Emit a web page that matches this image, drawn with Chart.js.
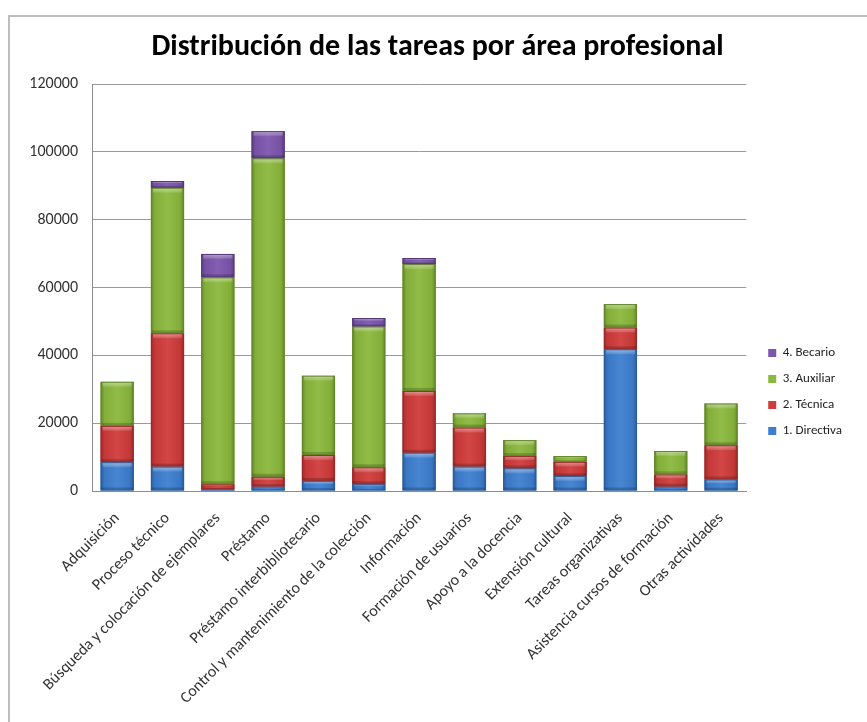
<!DOCTYPE html>
<html>
<head>
<meta charset="utf-8">
<script src="https://cdn.jsdelivr.net/npm/chart.js@4/dist/chart.umd.min.js"></script>
<style>
  html, body { margin: 0; padding: 0; background: #ffffff; overflow: hidden; }
  #wrap { position: relative; width: 867px; height: 722px; }
  #frame { position: absolute; left: 8px; top: 15px; width: 900px; height: 800px;
           border: 2px solid #bdbdbd; box-sizing: border-box; }
  canvas { position: absolute; left: 0; top: 0; }
</style>
</head>
<body>
<div id="wrap">
  <div id="frame"></div>
  <canvas id="c" width="867" height="722"></canvas>
</div>
<script>
const titleText = 'Distribución de las tareas por área profesional';
const categories = [
  'Adquisición', 'Proceso técnico', 'Búsqueda y colocación de ejemplares', 'Préstamo',
  'Préstamo interbibliotecario', 'Control y mantenimiento de la colección', 'Información',
  'Formación de usuarios', 'Apoyo a la docencia', 'Extensión cultural',
  'Tareas organizativas', 'Asistencia cursos de formación', 'Otras actividades'
];
const seriesNames = ['1. Directiva', '2. Técnica', '3. Auxiliar', '4. Becario'];
const directiva = [8500, 7200, 500, 1300, 3000, 2000, 11300, 7200, 6700, 4400, 41800, 1300, 3400];
const tecnica   = [10700, 39300, 1500, 2900, 7600, 5000, 18200, 11500, 3600, 4200, 6400, 3600, 10100];
const auxiliar  = [13000, 42900, 61000, 93900, 23400, 41500, 37400, 4200, 4700, 1700, 6900, 6900, 12300];
const becario   = [0, 2000, 6900, 8000, 0, 2500, 1800, 0, 0, 0, 0, 0, 0];
const yTickValues = [0, 20000, 40000, 60000, 80000, 100000, 120000];

const seriesColors = ['#3d7ecf', '#d03b3b', '#8ab83c', '#7c55ad'];
const seriesBorders = ['#2a5b99', '#992a2a', '#63862a', '#553a7a'];
const FONT = "Carlito, Calibri, Lato, 'Open Sans', sans-serif";

const bevel = {
  id: 'bevel',
  afterDatasetsDraw(chart) {
    const ctx = chart.ctx;
    chart.data.datasets.forEach((ds, di) => {
      const meta = chart.getDatasetMeta(di);
      meta.data.forEach(el => {
        const p = el.getProps(['x', 'y', 'base', 'width'], true);
        const left = p.x - p.width / 2, right = p.x + p.width / 2;
        const top = Math.min(p.y, p.base), bottom = Math.max(p.y, p.base);
        const h = bottom - top;
        if (h < 1) return;
        ctx.save();
        ctx.beginPath(); ctx.rect(left, top, p.width, h); ctx.clip();
        const g = ctx.createLinearGradient(left, 0, right, 0);
        g.addColorStop(0, 'rgba(0,0,0,0.28)');
        g.addColorStop(0.12, 'rgba(0,0,0,0.05)');
        g.addColorStop(0.5, 'rgba(255,255,255,0.06)');
        g.addColorStop(0.88, 'rgba(0,0,0,0.05)');
        g.addColorStop(1, 'rgba(0,0,0,0.28)');
        ctx.fillStyle = g;
        ctx.fillRect(left, top, p.width, h);
        const sh = Math.min(5, h / 3);
        const g2 = ctx.createLinearGradient(0, top, 0, top + sh);
        g2.addColorStop(0, 'rgba(255,255,255,0.45)');
        g2.addColorStop(1, 'rgba(255,255,255,0.1)');
        ctx.fillStyle = g2;
        ctx.fillRect(left + 2, top, p.width - 4, sh);
        const bh = Math.min(3, h / 4);
        ctx.fillStyle = 'rgba(0,0,0,0.18)';
        ctx.fillRect(left, bottom - bh, p.width, bh);
        ctx.restore();
        ctx.save();
        ctx.strokeStyle = seriesBorders[di];
        ctx.lineWidth = 1;
        ctx.strokeRect(left + 0.5, top + 0.5, p.width - 1, h - 1);
        ctx.restore();
      });
    });
  }
};

// nudge the legend and title boxes slightly right, like the original layout
const boxNudge = {
  id: 'boxNudge',
  afterLayout(chart) {
    const l = chart.legend;
    if (l) { l.left += 9; l.right += 9; }
    const t = chart.titleBlock;
    if (t) { t.left += 11; t.right += 11; }
  }
};

const dataArrays = [directiva, tecnica, auxiliar, becario];
new Chart(document.getElementById('c'), {
  type: 'bar',
  data: {
    labels: categories,
    datasets: seriesNames.map((n, i) => ({
      label: n,
      data: dataArrays[i],
      backgroundColor: seriesColors[i],
      borderWidth: 0,
      barPercentage: 0.66,
      categoryPercentage: 1.0
    }))
  },
  options: {
    responsive: false,
    animation: false,
    devicePixelRatio: 1,
    layout: { padding: { left: 10, right: 24, top: 0, bottom: 0 } },
    plugins: {
      title: {
        display: true, text: titleText, color: '#000000',
        font: { family: FONT, size: 30, weight: 'bold' },
        padding: { top: 29, bottom: 19 }
      },
      legend: {
        position: 'right', reverse: true, align: 'center',
        title: { display: true, text: ' ', padding: { top: 50, bottom: 0 }, font: { size: 10 } },
        labels: { boxWidth: 8, boxHeight: 8, padding: 13, color: '#222222',
                  font: { family: FONT, size: 13 } }
      },
      tooltip: { enabled: false }
    },
    scales: {
      x: {
        stacked: true,
        grid: { display: false },
        border: { display: true, color: '#8c8c8c' },
        ticks: { autoSkip: false, maxRotation: 45, minRotation: 45, color: '#333333', padding: 10,
                 font: { family: FONT, size: 16 } },
        afterFit: s => { s.height = 231; }
      },
      y: {
        stacked: true, min: 0, max: 120000,
        afterBuildTicks: s => { s.ticks = yTickValues.map(v => ({ value: v })); },
        ticks: { padding: 14, color: '#333333', font: { family: FONT, size: 16 },
                 callback: v => String(v) },
        grid: { color: '#999999', drawTicks: false },
        border: { display: true, color: '#8c8c8c' },
        afterFit: s => { s.width = 82; }
      }
    }
  },
  plugins: [bevel, boxNudge]
});
</script>
</body>
</html>
